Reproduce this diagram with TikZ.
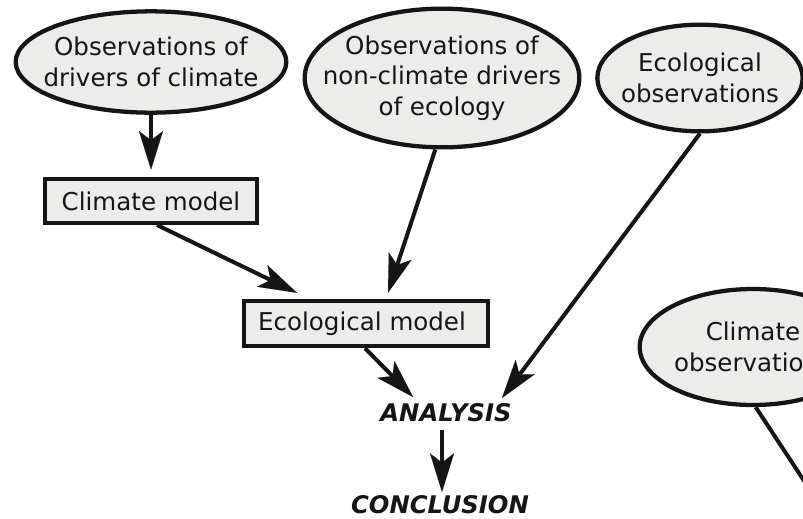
\documentclass[tikz,border=0pt]{standalone}
\usepackage{fontspec}
\setmainfont{DejaVu Sans}
\usetikzlibrary{shapes.geometric,arrows.meta}
\definecolor{boxfill}{HTML}{ECEDEB}
\definecolor{ink}{HTML}{151515}
\begin{document}
\begin{tikzpicture}[x=0.75pt,y=-0.75pt,
  every node/.style={text=ink,font=\fontsize{18.4}{23}\selectfont},
  obs/.style={ellipse,draw=ink,fill=boxfill,line width=3.2pt,inner xsep=-40pt,inner ysep=-30pt,align=center},
  mdl/.style={rectangle,draw=ink,fill=boxfill,line width=3pt,inner sep=0pt},
  word/.style={font=\fontsize{18.2}{22}\selectfont\bfseries\itshape,inner sep=0pt},
  conn/.style={draw=ink,line width=3pt,-{Stealth[length=29pt,width=18pt,inset=7pt,line width=0.01pt]}},
  plain/.style={draw=ink,line width=3pt}]
\useasboundingbox (0,0) rectangle (803,518);
\clip (0,0) rectangle (803,518);
\node[obs,minimum width=203pt,minimum height=76pt] (e1) at (151,62) {Observations of\\drivers of climate};
\node[obs,minimum width=206pt,minimum height=104pt] (e2) at (442,78) {Observations of\\non-climate drivers\\of ecology};
\node[obs,minimum width=154pt,minimum height=80pt] (e3) at (700,78) {Ecological\\observations};
\node[obs,minimum width=170pt,minimum height=87pt] (e4) at (753,347) {Climate\\observations};
\node[mdl,minimum width=159pt,minimum height=33pt] (cm) at (151,201) {Climate model};
\node[mdl,minimum width=183pt,minimum height=34pt] (em) at (366,323.5) {\hspace*{-6pt}Ecological model};
\node[word] (an) at (446,413) {ANALYSIS};
\node[word] (co) at (440,505) {CONCLUSION};
\coordinate (off) at (860,566);
\draw[conn] (e1.south) -- ([yshift=5.5pt]cm.north);
\draw[conn] ([xshift=4.5pt]cm.south) -- ([xshift=-51.75pt,yshift=4.5pt]em.north);
\draw[conn] ([xshift=-5pt]e2.south) -- ([xshift=16.5pt,yshift=4.5pt]em.north);
\draw[conn] (e3.south) -- ([xshift=42pt,yshift=11.25pt]an.center);
\draw[conn] ([xshift=-0.75pt]em.south) -- ([xshift=-24.75pt,yshift=12pt]an.center);
\draw[conn] ([xshift=-3pt,yshift=-12.75pt]an.center) -- ([xshift=1.5pt,yshift=9.75pt]co.center);
\draw[plain] ([xshift=2pt]e4.south) -- (off);
\end{tikzpicture}
\end{document}
